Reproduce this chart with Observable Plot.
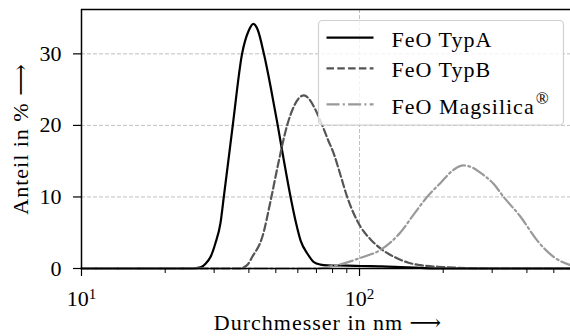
<!DOCTYPE html>
<html><head><meta charset="utf-8">
<script src="https://cdn.jsdelivr.net/npm/d3@7"></script>
<script src="https://cdn.jsdelivr.net/npm/@observablehq/plot@0.6"></script>
<style>
body{margin:0;background:#fff;overflow:hidden}
#chart{position:relative;width:570px;height:336px}
</style></head><body><div id="chart"></div>
<script>
// ---- data ----
const seriesNames = ["FeO TypA", "FeO TypB", "FeO Magsilica"];
const typA_d = [10, 20, 25, 26.8, 28.0, 29.1, 30.3, 31.6, 32.5, 35, 37.8, 40, 41.5, 43, 45.3, 48, 50.8, 53.5, 56.5, 59, 61.4, 64.9, 68.5, 72.4, 76.6, 90, 101, 120, 140, 166, 200, 574];
const typA_v = [0, 0, 0, 0.15, 0.7, 1.6, 3.5, 6.3, 10, 20, 30, 33.3, 34.2, 33.4, 30, 25.2, 20, 15, 10, 6.5, 3.9, 2.1, 0.9, 0.55, 0.45, 0.4, 0.35, 0.3, 0.2, 0.08, 0, 0];
const typB_d = [10, 37, 39.5, 41.1, 44.7, 48.2, 51.3, 54.9, 58, 60.5, 63.1, 66.7, 70, 73.5, 77, 80.9, 85.5, 90.3, 101, 110, 119, 137, 150, 166, 200, 251, 300, 574];
const typB_v = [0, 0, 0.5, 1.6, 4.4, 10, 15.1, 20, 22.6, 23.8, 24.2, 23.4, 21.9, 20, 18.0, 16, 13, 10, 5.8, 4.0, 2.8, 1.4, 0.8, 0.46, 0.2, 0.05, 0, 0];
const mag_d = [10, 70, 78.7, 85.5, 101, 119, 140, 157, 175, 196, 218, 237, 255, 272, 304, 330, 380, 436, 500, 574];
const mag_v = [0, 0, 0.3, 0.6, 1.5, 2.6, 5.0, 7.6, 10, 12, 13.8, 14.4, 14.1, 13.4, 11.8, 10, 7.2, 3.9, 1.6, 0.46];
const yTicks = [0, 10, 20, 30];
const xMajorTicks = [10, 100];
const xMajorBase = ["10", "10"];
const xMajorExp = ["1", "2"];
const xMinorTicks = [20, 30, 40, 50, 60, 70, 80, 90, 200, 300, 400, 500];
const xDomain = [10, 574];
const yDomain = [0, 36.2];
const xLabel = "Durchmesser in nm ⟶";
const yLabel = "Anteil in % ⟶";

const toRows = (ds, vs) => ds.map((d, i) => ({d, v: vs[i]}));
const rowsA = toRows(typA_d, typA_v);
const rowsB = toRows(typB_d, typB_v);
const rowsM = toRows(mag_d, mag_v);

const FONT = "'Liberation Serif', 'DejaVu Serif', serif";
const grid = {stroke: "#b0b0b0", strokeOpacity: 1, strokeDasharray: "4,2", strokeWidth: 0.8};

const plot = Plot.plot({
  width: 570, height: 336,
  marginLeft: 81, marginRight: 0, marginTop: 9, marginBottom: 68,
  style: {fontFamily: FONT, fontSize: "21px", background: "#fff", color: "#000"},
  x: {type: "log", domain: xDomain},
  y: {domain: yDomain},
  marks: [
    Plot.gridY(yTicks.filter(d => d > 0), grid),
    Plot.gridX([100], grid),
    Plot.line(rowsA, {x: "d", y: "v", stroke: "#000", strokeWidth: 2.2, curve: "monotone-x"}),
    Plot.line(rowsB, {x: "d", y: "v", stroke: "#555", strokeWidth: 2.2, strokeDasharray: "7.5,3.3", curve: "monotone-x"}),
    Plot.line(rowsM, {x: "d", y: "v", stroke: "#999", strokeWidth: 2.2, strokeDasharray: "13,3.3,2,3.3", curve: "monotone-x"}),
    Plot.ruleY([yDomain[0]], {stroke: "#000", strokeWidth: 1.5}),
    Plot.ruleY([yDomain[1]], {stroke: "#000", strokeWidth: 1.5}),
    Plot.ruleX([xDomain[0]], {stroke: "#000", strokeWidth: 1.5}),
    Plot.axisY(yTicks, {tickSize: 8, tickPadding: 12, label: null, fontSize: 22, strokeWidth: 1.2}),
    Plot.axisX(xMajorTicks, {tickSize: 8, tickPadding: 14, label: null, fontSize: 22, strokeWidth: 1.2,
      tickFormat: d => xMajorBase[xMajorTicks.indexOf(d)] + "^" + xMajorExp[xMajorTicks.indexOf(d)]}),
    Plot.axisX(xMinorTicks, {tickSize: 5, label: null, strokeWidth: 1, tickFormat: () => ""}),
    Plot.text([xLabel], {text: d => d, frameAnchor: "bottom", dy: 54, dx: 2, fontSize: 22, lineAnchor: "middle", textAnchor: "middle"}),
    Plot.text([yLabel], {text: d => d, frameAnchor: "left", dx: -61, rotate: -90, fontSize: 22, lineAnchor: "middle", textAnchor: "middle"})
  ]
});
document.getElementById("chart").appendChild(plot);

const svg = d3.select(plot);
// letter spacing on axis titles to approximate the wider Computer Modern face
svg.selectAll("text").filter(function() { const t = this.textContent; return t === xLabel || t === yLabel; })
  .attr("letter-spacing", "1px");
// real superscripts for the decade labels
svg.selectAll("text").each(function() {
  const t = this.textContent;
  if (/^10\^\d$/.test(t)) {
    const [base, exp] = t.split("^");
    const el = d3.select(this);
    el.text(null);
    el.append("tspan").text(base);
    el.append("tspan").attr("dy", "-0.45em").attr("font-size", "15px").text(exp);
  }
});

// ---- legend ----
const lg = svg.append("g").attr("font-family", FONT).attr("font-size", 22).attr("text-anchor", "start");
lg.append("rect").attr("x", 318.5).attr("y", 20.5).attr("width", 245).attr("height", 104.5).attr("rx", 4)
  .attr("fill", "#fff").attr("fill-opacity", 0.8).attr("stroke", "#d0d0d0").attr("stroke-width", 1.2);
const legendStyles = [
  {stroke: "#000", dash: null},
  {stroke: "#555", dash: "7.5,3.3"},
  {stroke: "#999", dash: "13,3.3,2,3.3"}
];
const rowLineY = [37.7, 68.3, 104.3];
const rowTextY = [46.7, 77.3, 114];
seriesNames.forEach((name, i) => {
  const ln = lg.append("line").attr("x1", 326.5).attr("x2", 373.5).attr("y1", rowLineY[i]).attr("y2", rowLineY[i])
    .attr("stroke", legendStyles[i].stroke).attr("stroke-width", 2.2);
  if (legendStyles[i].dash) ln.attr("stroke-dasharray", legendStyles[i].dash);
  const t = lg.append("text").attr("x", 391.5).attr("y", rowTextY[i]).attr("fill", "#000")
    .attr("letter-spacing", "1px").text(name);
  if (i === 2) t.append("tspan").attr("dy", -10).attr("dx", 1).attr("font-size", 17).text("®");
});
</script></body></html>
